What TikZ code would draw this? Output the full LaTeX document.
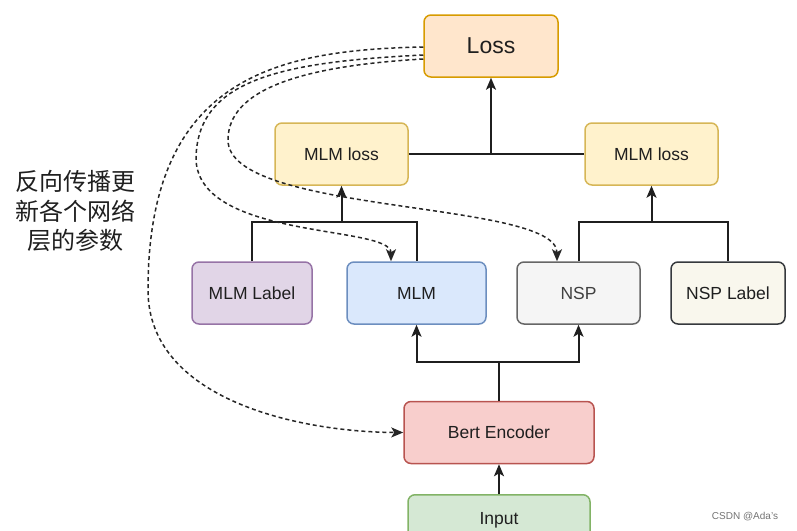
\documentclass[tikz,border=0pt]{standalone}
\usepackage{fontspec}
\setmainfont{Liberation Sans}
\newfontfamily\cjk{Noto Sans CJK SC}
\usetikzlibrary{arrows.meta}

\definecolor{lossfill}{HTML}{FFE6CC}\definecolor{lossline}{HTML}{D79B00}
\definecolor{sumfill}{HTML}{FFF2CC}\definecolor{sumline}{HTML}{D6B656}
\definecolor{lblfill}{HTML}{E1D5E7}\definecolor{lblline}{HTML}{9673A6}
\definecolor{mlmfill}{HTML}{DAE8FC}\definecolor{mlmline}{HTML}{6C8EBF}
\definecolor{nspfill}{HTML}{F5F5F5}\definecolor{nspline}{HTML}{666666}
\definecolor{nlbfill}{HTML}{F9F7ED}\definecolor{nlbline}{HTML}{36393D}
\definecolor{encfill}{HTML}{F8CECC}\definecolor{encline}{HTML}{B85450}
\definecolor{inpfill}{HTML}{D5E8D4}\definecolor{inpline}{HTML}{82B366}

\begin{document}
\begin{tikzpicture}[x=1pt,y=-1pt,
  box/.style={draw, line width=1.5pt, rounded corners=7pt, minimum height=62pt,
    inner sep=0pt, text=black!88, font=\fontsize{17.5}{20}\selectfont},
  link/.style={line width=2pt, draw=black!88},
  back/.style={line width=1.5pt, draw=black!85, dash pattern=on 4pt off 3pt},
  tip/.style={-{Stealth[length=12pt,width=10pt,inset=3pt]}}]
\useasboundingbox (0,0) rectangle (797,530);

% boxes
\node[box, fill=lossfill, draw=lossline, minimum width=134pt, font=\fontsize{23}{26}\selectfont] (loss) at (491,46) {Loss};
\node[box, fill=sumfill, draw=sumline, minimum width=133pt] (mlmloss) at (341.5,154) {MLM loss};
\node[box, fill=sumfill, draw=sumline, minimum width=133pt] (nsploss) at (651.5,154) {MLM loss};
\node[box, fill=lblfill, draw=lblline, minimum width=120pt] (mlmlabel) at (252,293) {MLM Label};
\node[box, fill=mlmfill, draw=mlmline, minimum width=139pt] (mlm) at (416.5,293) {MLM};
\node[box, fill=nspfill, draw=nspline, minimum width=123pt, text=black!75] (nsp) at (578.5,293) {NSP};
\node[box, fill=nlbfill, draw=nlbline, minimum width=114pt] (nsplabel) at (728,293) {NSP Label};
\node[box, fill=encfill, draw=encline, minimum width=190pt] (bert) at (499,432.5) {Bert Encoder};
\node[box, fill=inpfill, draw=inpline, minimum width=182pt, minimum height=46pt, anchor=north, text depth=0pt] (input) at (499,494) {\raisebox{-2pt}{Input}};

% note
\node[align=center, font=\cjk\fontsize{24}{29.5}\selectfont, text=black!88] (note) at (76,211)
  {反向传播更\\新各个网络\\层的参数};
\node[font=\fontsize{10}{12}\selectfont, text=black!55] (mark) at (745,517) {CSDN @Ada's};

% junctions
\coordinate (top) at (491,154);
\coordinate (j1) at (341.5,222);
\coordinate (j2) at (651.5,222);
\coordinate (j3) at (499,362);

% forward
\draw[link] (mlmloss) -- (nsploss);
\draw[link,tip] (top) -- (loss);
\draw[link] (mlmlabel.north) |- (j1) -| (mlm.north);
\draw[link,tip] (j1) -- (mlmloss);
\draw[link] (nsp.north) |- (j2) -| (nsplabel.north);
\draw[link,tip] (j2) -- (nsploss);
\draw[link] (bert) -- (j3);
\draw[link,tip] (j3) -| (mlm);
\draw[link,tip] (j3) -| (nsp);
\draw[link,tip] (input) -- (bert);

% backward
\draw[back,tip] (loss.west |- 0,47) .. controls (280,50) and (148,75) .. (148,290)
  .. controls (148,400) and (300,432) .. (bert.west);
\draw[back,tip] (loss.west |- 0,55) .. controls (280,62) and (196,80) .. (196,160)
  .. controls (200,240) and (391,225) .. (mlm.north -| 391,0);
\draw[back,tip] (loss.west |- 0,59) .. controls (300,66) and (228,90) .. (228,140)
  .. controls (228,215) and (557,200) .. (nsp.north -| 557,0);
\end{tikzpicture}
\end{document}
